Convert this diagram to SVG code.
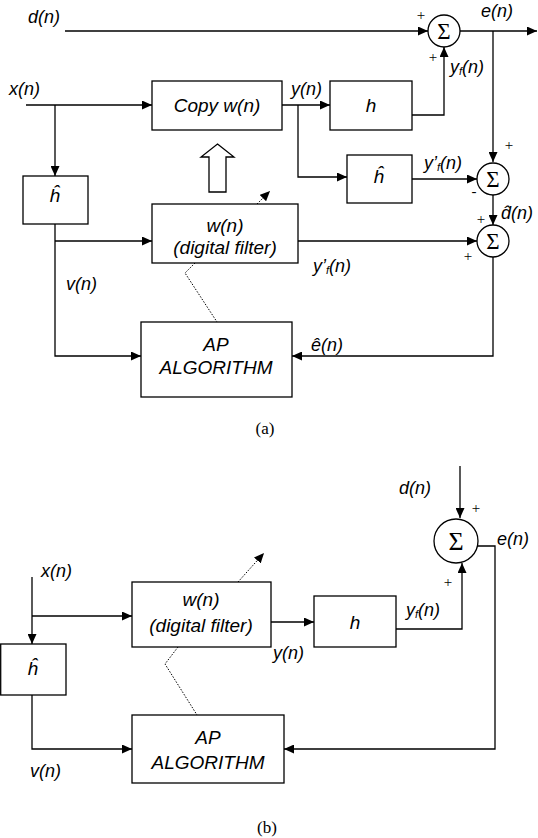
<svg xmlns="http://www.w3.org/2000/svg" width="538" height="838" viewBox="0 0 538 838">
<style>
.bx{fill:#fff;stroke:#000;stroke-width:1.3}
.ln{fill:none;stroke:#000;stroke-width:1.3}
.dt{fill:none;stroke:#000;stroke-width:1;stroke-dasharray:1.5 1.5}
.lb{font-family:"Liberation Sans",Arial,sans-serif;font-style:italic;font-size:18px;fill:#000}
.bt{font-family:"Liberation Sans",Arial,sans-serif;font-style:italic;font-size:19px;fill:#000;text-anchor:middle}
.sg{font-family:"Liberation Serif","Times New Roman",serif;fill:#000;text-anchor:middle}
.pm{font-family:"Liberation Serif","Times New Roman",serif;font-size:15px;fill:#000;text-anchor:middle}
.cap{font-family:"Liberation Serif","Times New Roman",serif;font-size:17px;fill:#000;text-anchor:middle}
</style>
<defs>
<marker id="ar" markerUnits="userSpaceOnUse" markerWidth="11" markerHeight="9" refX="10" refY="4.5" orient="auto">
<path d="M0,0 L10,4.5 L0,9 z" fill="#000"/>
</marker>
</defs>

<g id="connectors">
<!-- (a) -->
<path class="ln" d="M65,31 H428" marker-end="url(#ar)"/>
<path class="ln" d="M460,31 H537" marker-end="url(#ar)"/>
<path class="ln" d="M493,31 V162" marker-end="url(#ar)"/>
<path class="ln" d="M412,115 H444 V47" marker-end="url(#ar)"/>
<path class="ln" d="M26,105 H152" marker-end="url(#ar)"/>
<path class="ln" d="M55,105 V176" marker-end="url(#ar)"/>
<path class="ln" d="M282,105 H330" marker-end="url(#ar)"/>
<path class="ln" d="M298,105 V177 H347" marker-end="url(#ar)"/>
<path class="ln" d="M412,179 H477" marker-end="url(#ar)"/>
<path class="ln" d="M493,195 V225" marker-end="url(#ar)"/>
<path class="ln" d="M55,224 V356 H141" marker-end="url(#ar)"/>
<path class="ln" d="M55,241 H152" marker-end="url(#ar)"/>
<path class="ln" d="M298,241 H477" marker-end="url(#ar)"/>
<path class="ln" d="M493,257 V356 H292" marker-end="url(#ar)"/>
<path class="dt" d="M257,204 L270,191" marker-end="url(#ar)"/>
<path class="dt" d="M195,263 L185,273 L217,322"/>
<polygon class="bx" points="217.5,144 234,157 226,157 226,192 209,192 209,157 201,157"/>
<!-- (b) -->
<path class="ln" d="M460,466 V518" marker-end="url(#ar)"/>
<path class="ln" d="M477.5,546 H495 V749 H284" marker-end="url(#ar)"/>
<path class="ln" d="M396,629 H462 V563" marker-end="url(#ar)"/>
<path class="ln" d="M32,577 V644" marker-end="url(#ar)"/>
<path class="ln" d="M32,616 H132" marker-end="url(#ar)"/>
<path class="ln" d="M271,622 H314" marker-end="url(#ar)"/>
<path class="ln" d="M32,695 V749 H132" marker-end="url(#ar)"/>
<path class="dt" d="M238,582 L264,553" marker-end="url(#ar)"/>
<path class="dt" d="M178,647 L165,664 L197,715"/>
</g>

<!-- (a) nodes -->
<g id="sum_a1">
<circle class="bx" cx="444" cy="31" r="16"/>
<text class="sg" x="444" y="39" font-size="23">Σ</text>
</g>
<g id="sum_a2">
<circle class="bx" cx="493" cy="179" r="16"/>
<text class="sg" x="493" y="187" font-size="23">Σ</text>
</g>
<g id="sum_a3">
<circle class="bx" cx="493" cy="241" r="16"/>
<text class="sg" x="493" y="249" font-size="23">Σ</text>
</g>
<g id="copy_a">
<rect class="bx" x="152" y="81" width="130" height="49"/>
<text class="bt" x="217" y="112">Copy w(n)</text>
</g>
<g id="h_a">
<rect class="bx" x="330" y="81" width="82" height="49"/>
<text class="bt" x="371" y="112">h</text>
</g>
<g id="hhat_a2">
<rect class="bx" x="347" y="155" width="65" height="48"/>
<text class="bt" x="379" y="183">ĥ</text>
</g>
<g id="hhat_a1">
<rect class="bx" x="23" y="176" width="65" height="48"/>
<text class="bt" x="55" y="202">ĥ</text>
</g>
<g id="w_a">
<rect class="bx" x="152" y="204" width="146" height="59"/>
<text class="bt" x="225" y="232">w(n)</text>
<text class="bt" x="225" y="254">(digital filter)</text>
</g>
<g id="ap_a">
<rect class="bx" x="141" y="322" width="151" height="75"/>
<text class="bt" x="216" y="351">AP</text>
<text class="bt" x="216" y="374">ALGORITHM</text>
</g>

<g id="labels_a">
<text class="lb" x="28" y="23">d(n)</text>
<text class="lb" x="481" y="17">e(n)</text>
<text class="lb" x="450" y="73">y<tspan font-size="11" dy="2">f</tspan><tspan dy="-2">(n)</tspan></text>
<text class="lb" x="9" y="95">x(n)</text>
<text class="lb" x="291" y="95">y(n)</text>
<text class="lb" x="424" y="169">y’<tspan font-size="11" dy="2">f</tspan><tspan dy="-2">(n)</tspan></text>
<text class="lb" x="501" y="219">d̂(n)</text>
<text class="lb" x="313" y="272">y’<tspan font-size="11" dy="2">f</tspan><tspan dy="-2">(n)</tspan></text>
<text class="lb" x="66" y="290">v(n)</text>
<text class="lb" x="311" y="351">ê(n)</text>
<text class="pm" x="421" y="20">+</text>
<text class="pm" x="433" y="62">+</text>
<text class="pm" x="509" y="150">+</text>
<text class="pm" x="474" y="196">-</text>
<text class="pm" x="481" y="224">+</text>
<text class="pm" x="468" y="261">+</text>
<text class="cap" x="265" y="434">(a)</text>
</g>

<!-- (b) nodes -->
<g id="sum_b">
<circle class="bx" cx="456" cy="541" r="22"/>
<text class="sg" x="456" y="550" font-size="26">Σ</text>
</g>
<g id="w_b">
<rect class="bx" x="132" y="582" width="139" height="65"/>
<text class="bt" x="201" y="606">w(n)</text>
<text class="bt" x="201" y="632">(digital filter)</text>
</g>
<g id="h_b">
<rect class="bx" x="314" y="596" width="82" height="51"/>
<text class="bt" x="355" y="629" font-size="24">h</text>
</g>
<g id="hhat_b">
<rect class="bx" x="0.7" y="644" width="65.3" height="51"/>
<text class="bt" x="33" y="675" font-size="24">ĥ</text>
</g>
<g id="ap_b">
<rect class="bx" x="132" y="715" width="152" height="68"/>
<text class="bt" x="208" y="744">AP</text>
<text class="bt" x="208" y="769">ALGORITHM</text>
</g>

<g id="labels_b">
<text class="lb" x="399" y="494">d(n)</text>
<text class="lb" x="497" y="545">e(n)</text>
<text class="lb" x="406" y="616">y<tspan font-size="11" dy="2">f</tspan><tspan dy="-2">(n)</tspan></text>
<text class="lb" x="41" y="577">x(n)</text>
<text class="lb" x="273" y="659">y(n)</text>
<text class="lb" x="30" y="777">v(n)</text>
<text class="pm" x="476" y="513">+</text>
<text class="pm" x="448" y="587">+</text>
<text class="cap" x="267" y="833">(b)</text>
</g>
</svg>
